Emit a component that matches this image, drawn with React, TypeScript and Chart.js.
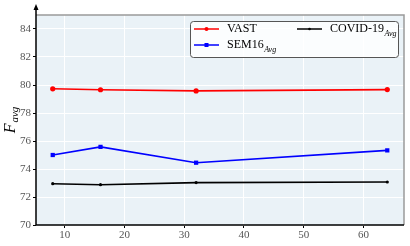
import React, { useEffect, useRef } from "react";
import { Chart, registerables } from "chart.js";
Chart.register(...registerables);

const xValues = [8, 16, 32, 64];
const vast = [79.73, 79.66, 79.58, 79.67];
const sem16 = [75.0, 75.58, 74.45, 75.33];
const covid = [72.95, 72.88, 73.03, 73.07];
const xTicks = [10, 20, 30, 40, 50, 60];
const yTicks = [70, 72, 74, 76, 78, 80, 82, 84];

const FONT = "'Liberation Serif', 'DejaVu Serif', serif";

const decor = {
  id: "decor",
  beforeDraw(chart: any) {
    const { ctx, chartArea: a } = chart;
    ctx.save();
    ctx.fillStyle = "#EAF2F7";
    ctx.fillRect(a.left, a.top, a.right - a.left, a.bottom - a.top);
    ctx.restore();
  },
  afterDraw(chart: any) {
    const { ctx, chartArea: a } = chart;
    ctx.save();
    ctx.strokeStyle = "#9a9a9a";
    ctx.lineWidth = 1.5;
    ctx.beginPath();
    ctx.moveTo(a.left, a.top);
    ctx.lineTo(a.right, a.top);
    ctx.lineTo(a.right, a.bottom);
    ctx.stroke();
    ctx.strokeStyle = "#000";
    ctx.lineWidth = 1.5;
    ctx.beginPath();
    ctx.moveTo(a.left, 8);
    ctx.lineTo(a.left, a.bottom);
    ctx.lineTo(a.right, a.bottom);
    ctx.stroke();
    ctx.fillStyle = "#000";
    ctx.beginPath();
    ctx.moveTo(a.left, 4);
    ctx.lineTo(a.left - 2.5, 10);
    ctx.lineTo(a.left + 2.5, 10);
    ctx.closePath();
    ctx.fill();

    // y-axis title F_avg
    ctx.save();
    ctx.translate(15, (a.top + a.bottom) / 2);
    ctx.rotate(-Math.PI / 2);
    ctx.fillStyle = "#000";
    ctx.textBaseline = "alphabetic";
    ctx.font = `italic 16px ${FONT}`;
    const fw = ctx.measureText("F").width;
    ctx.font = `italic 11px ${FONT}`;
    const sw = ctx.measureText("avg").width;
    const tot = fw + sw + 1;
    ctx.font = `italic 16px ${FONT}`;
    ctx.fillText("F", -tot / 2, 0);
    ctx.font = `italic 11px ${FONT}`;
    ctx.fillText("avg", -tot / 2 + fw + 1, 3);
    ctx.restore();

    // legend
    const bx = 190, by = 21, bw = 208, bh = 36;
    ctx.fillStyle = "rgba(255,255,255,0.8)";
    ctx.strokeStyle = "#555";
    ctx.lineWidth = 1;
    ctx.beginPath();
    ctx.roundRect(bx + 0.5, by + 0.5, bw, bh, 3);
    ctx.fill();
    ctx.stroke();

    const items = [
      { name: "VAST", sub: "", color: "#ff0000", shape: "circle", x: 194, y: 29 },
      { name: "SEM16", sub: "Avg", color: "#0000ff", shape: "rect", x: 194, y: 45 },
      { name: "COVID-19", sub: "Avg", color: "#000000", shape: "star", x: 297, y: 29 },
    ];
    for (const it of items) {
      ctx.strokeStyle = it.color;
      ctx.fillStyle = it.color;
      ctx.lineWidth = 1.5;
      ctx.beginPath();
      ctx.moveTo(it.x, it.y);
      ctx.lineTo(it.x + 25, it.y);
      ctx.stroke();
      const mx = it.x + 12.5;
      ctx.beginPath();
      if (it.shape === "circle") ctx.arc(mx, it.y, 2, 0, Math.PI * 2);
      else if (it.shape === "rect") ctx.rect(mx - 2, it.y - 2, 4, 4);
      else ctx.arc(mx, it.y, 1.3, 0, Math.PI * 2);
      ctx.fill();
      ctx.fillStyle = "#000";
      ctx.textBaseline = "middle";
      ctx.font = `12px ${FONT}`;
      const tx = it.x + 33;
      ctx.fillText(it.name, tx, it.y);
      if (it.sub) {
        const w = ctx.measureText(it.name).width;
        ctx.font = `italic 8px ${FONT}`;
        ctx.fillText(it.sub, tx + w + 0.5, it.y + 5);
      }
    }
    ctx.restore();
  },
};

export default function App() {
  const ref = useRef<HTMLCanvasElement>(null);
  useEffect(() => {
    document.body.style.margin = "0";
    const mk = (label: string, data: number[], color: string, style: any, r: number) => ({
      label,
      data: data.map((y, i) => ({ x: xValues[i], y })),
      borderColor: color,
      backgroundColor: color,
      borderWidth: 1.6,
      pointStyle: style,
      pointRadius: r,
      pointBorderWidth: 0,
      tension: 0,
    });
    const chart = new Chart(ref.current!, {
      type: "line",
      data: {
        datasets: [
          mk("VAST", vast, "#ff0000", "circle", 2.6),
          mk("SEM16", sem16, "#0000ff", "rect", 3),
          mk("COVID-19", covid, "#000000", "circle", 1.6),
        ],
      },
      plugins: [decor],
      options: {
        animation: false,
        responsive: false,
        layout: { padding: { top: 15, right: 6, left: 0, bottom: 0 } },
        plugins: { legend: { display: false }, tooltip: { enabled: false } },
        scales: {
          x: {
            type: "linear",
            min: 5.2,
            max: 66.8,
            afterBuildTicks: (s: any) => { s.ticks = xTicks.map((v) => ({ value: v })); },
            afterFit: (s: any) => { s.height = 21; },
            grid: { color: "#ffffff", lineWidth: 1, drawTicks: true, tickLength: 3, tickColor: "#000", drawOnChartArea: true },
            border: { display: false },
            ticks: { color: "#555", font: { family: FONT, size: 11 }, padding: 1, maxRotation: 0 },
          },
          y: {
            type: "linear",
            min: 70,
            max: 85,
            afterBuildTicks: (s: any) => { s.ticks = yTicks.map((v) => ({ value: v })); },
            afterFit: (s: any) => { s.width = 36; },
            grid: { color: "#ffffff", lineWidth: 1, drawTicks: true, tickLength: 3, tickColor: "#000" },
            border: { display: false },
            ticks: { color: "#555", font: { family: FONT, size: 11 }, padding: 2 },
          },
        },
      },
    });
    return () => chart.destroy();
  }, []);
  return (
    <div style={{ position: "absolute", left: 0, top: 0, width: 410, height: 246 }}>
      <canvas ref={ref} width={410} height={246} style={{ width: 410, height: 246 }} />
    </div>
  );
}
